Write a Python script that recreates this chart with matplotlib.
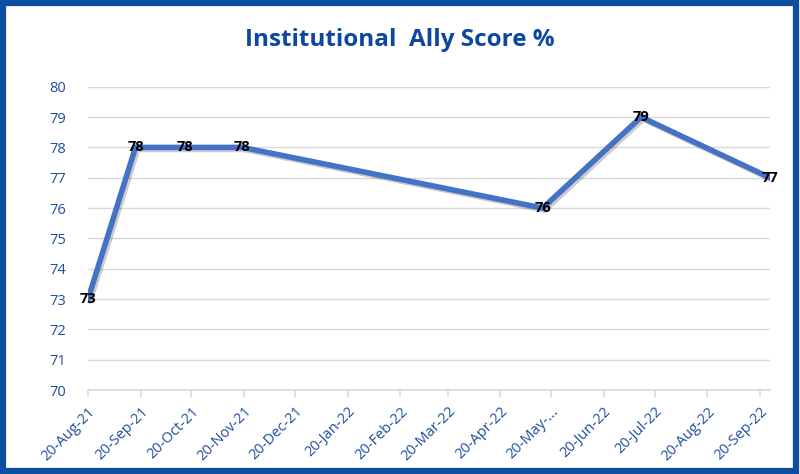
import datetime as dt
import matplotlib
matplotlib.use("Agg")
import matplotlib.pyplot as plt
import matplotlib.patheffects as pe
from matplotlib.patches import Rectangle

# data
dates = [dt.date(2021, 8, 20), dt.date(2021, 9, 17), dt.date(2021, 10, 16),
         dt.date(2021, 11, 19), dt.date(2022, 5, 15), dt.date(2022, 7, 12),
         dt.date(2022, 9, 26)]
scores = [73, 78, 78, 78, 76, 79, 77]

tick_dates = [dt.date(2021, m, 20) for m in range(8, 13)] + \
             [dt.date(2022, m, 20) for m in range(1, 10)]
tick_labels = ["20-Aug-21", "20-Sep-21", "20-Oct-21", "20-Nov-21", "20-Dec-21",
               "20-Jan-22", "20-Feb-22", "20-Mar-22", "20-Apr-22", "20-May-...",
               "20-Jun-22", "20-Jul-22", "20-Aug-22", "20-Sep-22"]
y_ticks = list(range(70, 81))

blue_text = "#1F4E9F"
line_col = "#4472C4"
plt.rcParams["font.family"] = ["Open Sans", "DejaVu Sans"]

fig = plt.figure(figsize=(8, 4.74), dpi=100)
ax = fig.add_axes([0.11, 0.177, 0.8525, 0.64])

ax.plot(dates, scores, color=line_col, lw=4, solid_capstyle="round",
        solid_joinstyle="miter", zorder=3,
        path_effects=[pe.SimpleLineShadow(offset=(1.5, -1.5), alpha=0.2),
                      pe.Normal()])
for d, v in zip(dates, scores):
    ax.text(d, v, str(v), ha="center", va="center", fontsize=10.5,
            fontweight="bold", color="black", zorder=4)

ax.set_xlim(dates[0], dates[-1])
ax.set_ylim(70, 80)
ax.set_yticks(y_ticks)
ax.set_xticks(tick_dates)
ax.set_xticklabels(tick_labels, rotation=45, ha="right", rotation_mode="anchor")
ax.grid(axis="y", color="#D9D9D9", lw=1)
ax.set_axisbelow(True)
for s in ["top", "right", "left"]:
    ax.spines[s].set_visible(False)
ax.spines["bottom"].set_color("#D9D9D9")
ax.spines["bottom"].set_linewidth(1.2)
ax.tick_params(axis="y", length=0, labelsize=10.5, labelcolor=blue_text, pad=16)
ax.tick_params(axis="x", length=5, color="#D9D9D9", width=1.2,
               labelsize=10.5, labelcolor=blue_text, pad=5)

fig.text(0.5, 0.915, "Institutional  Ally Score %", ha="center", va="center",
         fontsize=17.5, fontweight="bold", color="#0D47A1")

# outer frame
fig.patches.append(Rectangle((0.004, 0.006), 0.991, 0.988, transform=fig.transFigure,
                             fill=False, edgecolor="#0B4EA2", lw=4.5))

fig.savefig("out.png", dpi=100)
